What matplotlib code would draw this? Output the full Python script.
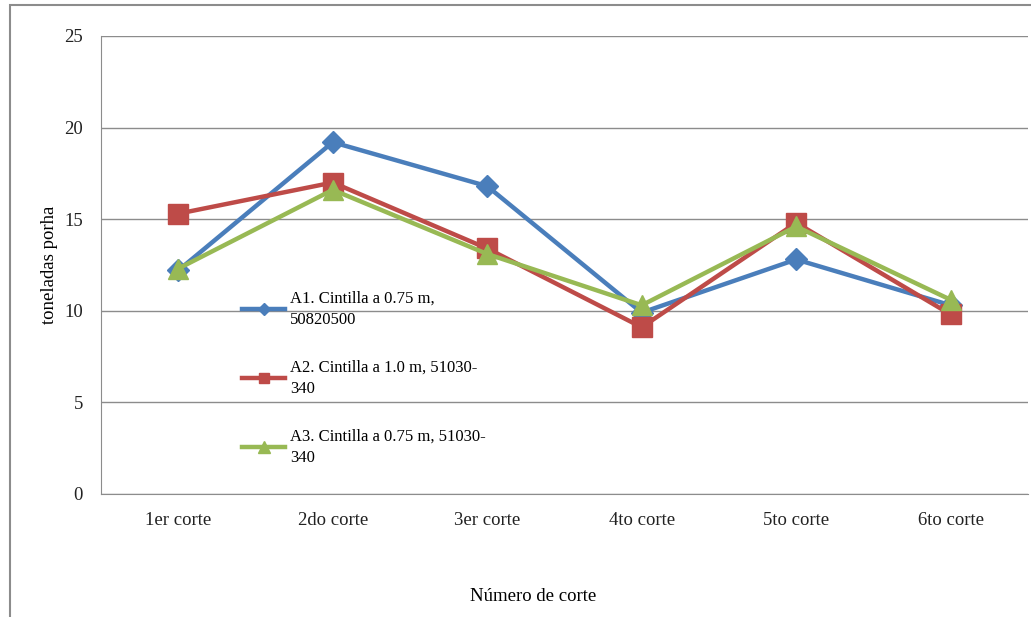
import matplotlib.pyplot as plt
from matplotlib.patches import Rectangle

cortes = ['1er corte', '2do corte', '3er corte', '4to corte', '5to corte', '6to corte']
a1 = [12.2, 19.2, 16.8, 9.9, 12.8, 10.3]
a2 = [15.3, 17.0, 13.4, 9.1, 14.8, 9.8]
a3 = [12.3, 16.6, 13.1, 10.3, 14.6, 10.6]
nombres = ['A1. Cintilla a 0.75 m,\n50820500',
           'A2. Cintilla a 1.0 m, 51030-\n340',
           'A3. Cintilla a 0.75 m, 51030-\n340']

plt.rcParams['font.family'] = ['Liberation Serif', 'DejaVu Serif']
plt.rcParams['font.size'] = 13.5

fig = plt.figure(figsize=(10.31, 6.17), dpi=100)
ax = fig.add_axes([0.098, 0.1994, 0.899, 0.7423])

# marco exterior del grafico
fig.patches.append(Rectangle((10 / 1031, -0.05), 1.2, 1 - 5 / 617 + 0.05,
                             transform=fig.transFigure, fill=False,
                             edgecolor='#8c8c8c', linewidth=1.5))

x = range(len(cortes))
ax.plot(x, a1, color='#4a7ebb', marker='D', markersize=11, linewidth=3.2, label=nombres[0])
ax.plot(x, a2, color='#be4b48', marker='s', markersize=14, linewidth=3.2, label=nombres[1])
ax.plot(x, a3, color='#98b954', marker='^', markersize=15, linewidth=3.2, label=nombres[2])

ax.set_xlim(-0.5, len(cortes) - 0.5)
ax.set_ylim(0, 25)
ax.set_yticks([0, 5, 10, 15, 20, 25])
ax.set_xticks(list(x))
ax.set_xticklabels(cortes)
ax.tick_params(length=0, pad=13, labelcolor='#222222')
ax.tick_params(axis='y', pad=13)
ax.grid(axis='y', color='#8c8c8c', linewidth=1)
ax.set_axisbelow(True)
for s in ['top', 'right']:
    ax.spines[s].set_visible(False)
for s in ['left', 'bottom']:
    ax.spines[s].set_color('#8c8c8c')

ax.set_ylabel('toneladas porha')
ax.yaxis.set_label_coords(-0.046, 0.5)
ax.set_xlabel('Número de corte')
ax.xaxis.set_label_coords(0.466, -0.205)

leg = ax.legend(loc='upper left', bbox_to_anchor=(0.143, 0.463), frameon=False,
                handlelength=2.6, markerscale=0.55, labelspacing=1.9,
                borderpad=0, handletextpad=0.3, fontsize=12)
for t in leg.get_texts():
    t.set_linespacing(1.45)

fig.savefig('out.png', dpi=100)
